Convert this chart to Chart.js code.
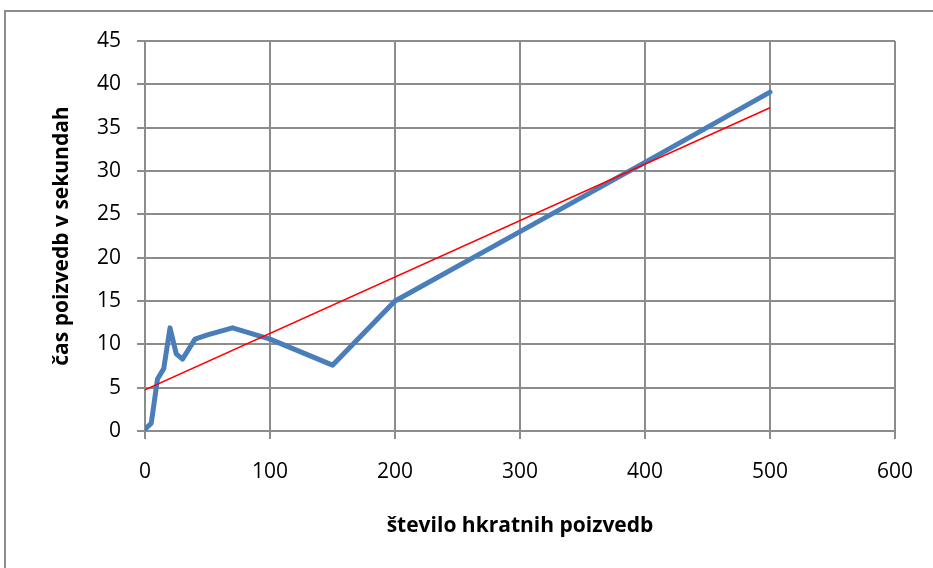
<!DOCTYPE html>
<html>
<head>
<meta charset="utf-8">
<script src="https://cdn.jsdelivr.net/npm/chart.js@4"></script>
<style>
  html, body { margin: 0; padding: 0; background: #fff; overflow: hidden; }
  #frame { position: absolute; left: 4px; top: 10px; width: 960px; height: 600px; border: 2px solid #8c8c8c; }
  #wrap { position: absolute; left: 0; top: 0; width: 933px; height: 568px; }
</style>
</head>
<body>
<div id="frame"></div>
<div id="wrap"><canvas id="chart" width="933" height="568"></canvas></div>
<script>
// število hkratnih poizvedb -> čas v sekundah
var queries = [0, 5, 10, 15, 20, 25, 30, 40, 50, 70, 100, 150, 200, 300, 400, 500];
var seconds = [0.2, 0.9, 6.0, 7.2, 11.9, 8.9, 8.3, 10.6, 11.1, 11.9, 10.6, 7.6, 15.0, 23.0, 31.0, 39.1];

// linearni trend
var trendX = [0, 500];
var trendY = [4.75, 37.3];

var xTicks = [0, 100, 200, 300, 400, 500, 600];
var yTicks = [0, 5, 10, 15, 20, 25, 30, 35, 40, 45];

function pairs(xs, ys) {
    return xs.map(function (x, i) { return { x: x, y: ys[i] }; });
}

var tickFont = { family: "Open Sans", size: 21 };
var titleFont = { family: "Open Sans", size: 21, weight: "bold" };

var ctx = document.getElementById("chart").getContext("2d");
new Chart(ctx, {
    type: "scatter",
    data: {
        datasets: [{
            label: "čas",
            data: pairs(queries, seconds),
            showLine: true,
            borderColor: "#4a7ebb",
            borderWidth: 5,
            pointRadius: 0,
            borderJoinStyle: "round",
            borderCapStyle: "round",
            tension: 0,
            order: 2
        }, {
            label: "trend",
            data: pairs(trendX, trendY),
            showLine: true,
            borderColor: "#ff0000",
            borderWidth: 1.5,
            pointRadius: 0,
            order: 1
        }]
    },
    options: {
        responsive: false,
        animation: false,
        layout: { padding: { top: 41, right: 37, left: 0, bottom: 0 } },
        plugins: { legend: { display: false }, tooltip: { enabled: false } },
        scales: {
            x: {
                type: "linear",
                min: 0,
                max: 600,
                afterBuildTicks: function (axis) {
                    axis.ticks = xTicks.map(function (v) { return { value: v }; });
                },
                afterFit: function (axis) { axis.height = 137; },
                grid: { color: "#8c8c8c", lineWidth: 2, tickLength: 8, drawTicks: true },
                border: { color: "#8c8c8c", width: 2 },
                ticks: { font: tickFont, color: "#000", padding: 20, maxRotation: 0 },
                title: {
                    display: true,
                    text: "število hkratnih poizvedb",
                    font: titleFont,
                    color: "#000",
                    padding: { top: 0, bottom: 29 }
                }
            },
            y: {
                type: "linear",
                min: 0,
                max: 45,
                afterBuildTicks: function (axis) {
                    axis.ticks = yTicks.map(function (v) { return { value: v }; });
                },
                afterFit: function (axis) { axis.width = 145; },
                grid: { color: "#8c8c8c", lineWidth: 2, tickLength: 8, drawTicks: true },
                border: { color: "#8c8c8c", width: 2 },
                ticks: { font: tickFont, color: "#000", padding: 16 },
                title: {
                    display: true,
                    text: "čas poizvedb v sekundah",
                    font: titleFont,
                    color: "#000",
                    padding: { top: 49, bottom: 0 }
                }
            }
        }
    }
});
</script>
</body>
</html>
